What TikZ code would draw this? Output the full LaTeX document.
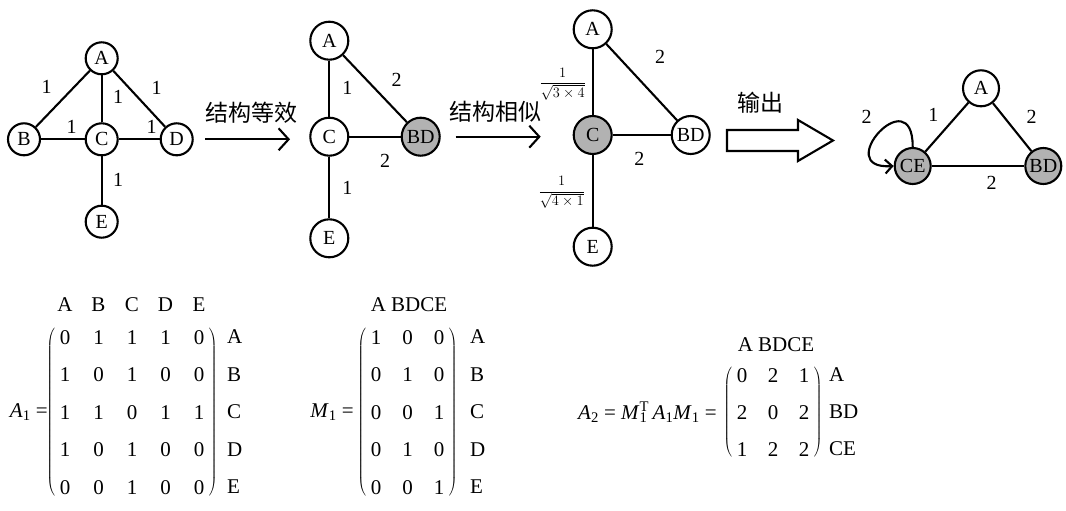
\documentclass[tikz,border=0pt]{standalone}
\usepackage{fontspec}
\setmainfont{Liberation Serif}
\newfontfamily\cjk{Noto Sans CJK SC}
\usetikzlibrary{arrows.meta,matrix}
\begin{document}
\begin{tikzpicture}[x=1pt,y=1pt,
  vtx/.style={circle,draw,line width=2.1pt,fill=white,inner sep=0pt,minimum size=32pt,font=\fontsize{20}{24}\selectfont},
  vbig/.style={vtx,minimum size=38pt},
  vmid/.style={vtx,minimum size=36pt},
  shaded/.style={fill=black!30},
  edge/.style={line width=2.1pt},
  lbl/.style={inner sep=0pt,font=\fontsize{20}{24}\selectfont},
  frlbl/.style={inner sep=0pt,font=\fontsize{14.5}{17}\selectfont},
  cn/.style={inner sep=0pt,font=\cjk\fontsize{23}{26}\selectfont},
  flow/.style={line width=2.1pt,-{Straight Barb[length=10pt,width=22pt]}},
  mtx/.style={matrix of nodes, inner sep=3pt,
    nodes={inner sep=0pt,text height=14pt,text depth=0pt,minimum width=11pt,font=\fontsize{21}{25}\selectfont},
    left delimiter=(, right delimiter=)},
  mtxt/.style={inner sep=0pt,font=\fontsize{21}{25}\selectfont},
]
\useasboundingbox (0,0) rectangle (1066,-511);

% ---------- graph 1 ----------
\node[vtx] (g1A) at (101.7,-58.3) {A};
\node[vtx] (g1B) at (24,-139.3) {B};
\node[vtx] (g1C) at (101.7,-139.3) {C};
\node[vtx] (g1D) at (176.7,-139.3) {D};
\node[vtx] (g1E) at (101.7,-221.7) {E};
\draw[edge] (g1A) -- (g1B);
\draw[edge] (g1A) -- (g1C);
\draw[edge] (g1A) -- (g1D);
\draw[edge] (g1B) -- (g1C);
\draw[edge] (g1C) -- (g1D);
\draw[edge] (g1C) -- (g1E);
\node[lbl] (l1ab) at (46.7,-86.7) {1};
\node[lbl] (l1ac) at (118,-96.7) {1};
\node[lbl] (l1ad) at (156.7,-88) {1};
\node[lbl] (l1bc) at (71.7,-126.7) {1};
\node[lbl] (l1cd) at (151.7,-126.7) {1};
\node[lbl] (l1ce) at (118,-180) {1};

% arrow 1
\coordinate (a1s) at (205,-139.3);
\coordinate (a1e) at (290,-139.3);
\draw[flow] (a1s) -- (a1e);
\node[cn] (t1) at (251,-113) {结构等效};

% ---------- graph 2 ----------
\node[vbig] (g2A) at (329.3,-40.7) {A};
\node[vbig] (g2C) at (329.3,-136.7) {C};
\node[vbig,shaded] (g2BD) at (420.7,-136.7) {BD};
\node[vbig] (g2E) at (329.3,-238.3) {E};
\draw[edge] (g2A) -- (g2C);
\draw[edge] (g2A) -- (g2BD);
\draw[edge] (g2C) -- (g2BD);
\draw[edge] (g2C) -- (g2E);
\node[lbl] (l2abd) at (396.7,-80) {2};
\node[lbl] (l2ac) at (347.3,-88.3) {1};
\node[lbl] (l2cbd) at (385,-161) {2};
\node[lbl] (l2ce) at (347.3,-188.3) {1};

% arrow 2
\coordinate (a2s) at (455.7,-136.7);
\coordinate (a2e) at (540.7,-136.7);
\draw[flow] (a2s) -- (a2e);
\node[cn] (t2) at (495,-112) {结构相似};

% ---------- graph 3 ----------
\node[vbig] (g3A) at (592.7,-29.3) {A};
\node[vbig,shaded] (g3C) at (592.7,-135) {C};
\node[vbig] (g3BD) at (690.7,-135) {BD};
\node[vbig] (g3E) at (592.7,-246.7) {E};
\draw[edge] (g3A) -- (g3C);
\draw[edge] (g3A) -- (g3BD);
\draw[edge] (g3C) -- (g3BD);
\draw[edge] (g3C) -- (g3E);
\node[lbl] (l3abd) at (660,-56.7) {2};
\node[lbl] (l3cbd) at (639.3,-159.3) {2};
\node[frlbl] (l3ac) at (562.7,-84) {$\displaystyle\frac{1}{\sqrt{3\times4}}$};
\node[frlbl] (l3ce) at (561.7,-192.3) {$\displaystyle\frac{1}{\sqrt{4\times1}}$};

% hollow arrow
\draw[line width=2.1pt,line join=miter] (727,-130) -- (798,-130) -- (798,-120) -- (833,-140.5)
  -- (798,-161) -- (798,-151) -- (727,-151) -- cycle;
\node[cn] (t3) at (760.5,-102.5) {输出};

% ---------- graph 4 ----------
\node[vmid] (g4A) at (981,-88.3) {A};
\node[vmid,shaded] (g4CE) at (912.7,-166) {CE};
\node[vmid,shaded] (g4BD) at (1043.3,-166) {BD};
\draw[edge] (g4CE) -- (g4A);
\draw[edge] (g4A) -- (g4BD);
\draw[edge] (g4CE) -- (g4BD);
\draw[edge,-{Straight Barb[length=7pt,width=14pt]}] (g4CE.north) .. controls (913,-78) and (830,-170) .. (g4CE.west);
\node[lbl] (l4loop) at (866.7,-116.7) {2};
\node[lbl] (l4ca) at (933.3,-115) {1};
\node[lbl] (l4abd) at (1031.7,-116.7) {2};
\node[lbl] (l4cbd) at (991.7,-183.3) {2};

% ---------- matrix A1 ----------
\node[mtxt,anchor=east] (A1lbl) at (48,-412) {\textit{A}\textsubscript{1} =};
\matrix (A1) [mtx, column sep=22.5pt, row sep=23.5pt] at (132,-412) {
0 & 1 & 1 & 1 & 0\\
1 & 0 & 1 & 0 & 0\\
1 & 1 & 0 & 1 & 1\\
1 & 0 & 1 & 0 & 0\\
0 & 0 & 1 & 0 & 0\\
};
\node[mtxt] (A1hA) at (65,-305) {A};
\node[mtxt] (A1hB) at (98.5,-305) {B};
\node[mtxt] (A1hC) at (132,-305) {C};
\node[mtxt] (A1hD) at (165.5,-305) {D};
\node[mtxt] (A1hE) at (199,-305) {E};
\node[mtxt,anchor=west] (A1rA) at (227,-337) {A};
\node[mtxt,anchor=west] (A1rB) at (227,-374.5) {B};
\node[mtxt,anchor=west] (A1rC) at (227,-412) {C};
\node[mtxt,anchor=west] (A1rD) at (227,-449.5) {D};
\node[mtxt,anchor=west] (A1rE) at (227,-487) {E};

% ---------- matrix M1 ----------
\node[mtxt,anchor=east] (M1lbl) at (354,-412) {\textit{M}\textsubscript{1} =};
\matrix (M1) [mtx, column sep=20.5pt, row sep=23.5pt] at (407.5,-412) {
1 & 0 & 0\\
0 & 1 & 0\\
0 & 0 & 1\\
0 & 1 & 0\\
0 & 0 & 1\\
};
\node[mtxt] (M1h) at (409,-305) {A BDCE};
\node[mtxt,anchor=west] (M1rA) at (470,-337) {A};
\node[mtxt,anchor=west] (M1rB) at (470,-374.5) {B};
\node[mtxt,anchor=west] (M1rC) at (470,-412) {C};
\node[mtxt,anchor=west] (M1rD) at (470,-449.5) {D};
\node[mtxt,anchor=west] (M1rE) at (470,-487) {E};

% ---------- matrix A2 ----------
\node[mtxt,anchor=east] (A2lbl) at (717,-412) {\textit{A}\textsubscript{2} = \textit{M}\rlap{\textsubscript{1}}\textsuperscript{T}\,\textit{A}\textsubscript{1}\textit{M}\textsubscript{1} =};
\matrix (A2) [mtx, column sep=20pt, row sep=23pt] at (773,-412) {
0 & 2 & 1\\
2 & 0 & 2\\
1 & 2 & 2\\
};
\node[mtxt] (A2h) at (776,-345) {A BDCE};
\node[mtxt,anchor=west] (A2rA) at (829,-375) {A};
\node[mtxt,anchor=west] (A2rB) at (829,-412) {BD};
\node[mtxt,anchor=west] (A2rC) at (829,-449) {CE};
\end{tikzpicture}
\end{document}
